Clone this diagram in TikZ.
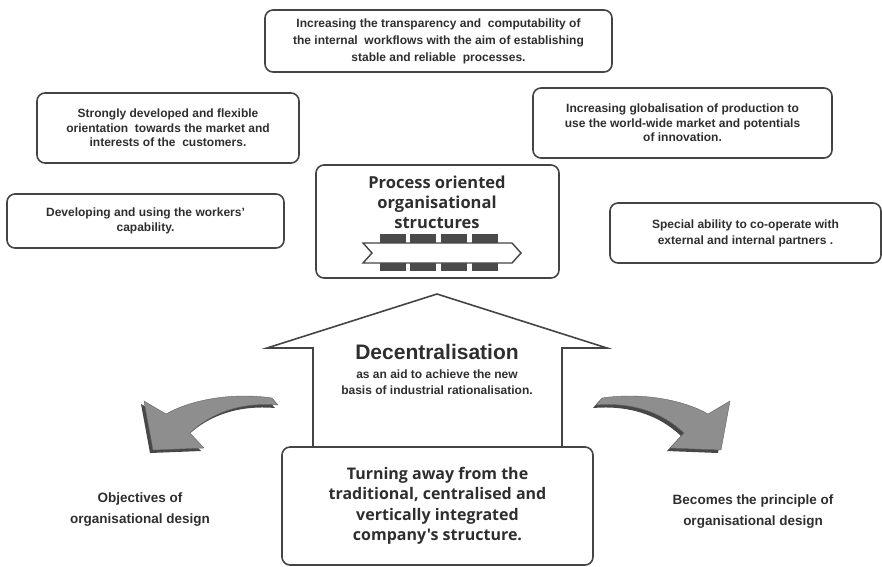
\documentclass[tikz,border=0pt]{standalone}
\usepackage{fontspec}
\setmainfont{Liberation Sans}
\newfontfamily\humfont{Open Sans}
\definecolor{ink}{HTML}{2E2E2E}
\definecolor{edge}{HTML}{444444}
\definecolor{arrowfill}{HTML}{8E8E8E}
\definecolor{arrowshade}{HTML}{474747}
\definecolor{barfill}{HTML}{4A4A4A}

\begin{document}
\begin{tikzpicture}[x=1pt,y=-1pt,
  box/.style={draw=edge, line width=1.6pt, rounded corners=8pt, inner sep=0pt,
    text=ink, align=center, font=\fontsize{12}{14.5}\selectfont\bfseries},
  label/.style={text=ink, align=center, inner sep=0pt},
  outline/.style={draw=edge, line width=1.6pt, line join=miter},
  bar/.style={fill=barfill, draw=none},
  swoosh/.style={fill=arrowfill, draw=arrowfill!70!black, line width=0.4pt},
  swooshshade/.style={fill=arrowshade, draw=none}]
\useasboundingbox (0,0) rectangle (882,566);

% objective boxes around the centre
\node[box, minimum width=347pt, minimum height=62pt,
      font=\fontsize{12}{17}\selectfont\bfseries] (workflows) at (438.5,41)
  {Increasing the transparency and \ computability of\\
   the internal \ workflows with the aim of establishing\\
   stable and reliable \ processes.};
\node[box, minimum width=262pt, minimum height=70pt] (market) at (168,128)
  {Strongly developed and flexible\\
   orientation \ towards the market and\\
   interests of the \ customers.};
\node[box, minimum width=277pt, minimum height=54pt] (workers) at (145.5,221)
  {Developing and using the workers'\\capability.};
\node[box, minimum width=299pt, minimum height=70pt] (global) at (682.5,123)
  {Increasing globalisation of production to\\
   use the world-wide market and potentials\\
   of innovation.};
\node[box, minimum width=271pt, minimum height=60pt,
      font=\fontsize{12}{16}\selectfont\bfseries] (partners) at (745.5,233)
  {Special ability to co-operate with\\external and internal partners .};

% central box with the process ribbon
\node[box, minimum width=243pt, minimum height=113pt] (process) at (437.5,221.5) {};
\node[label, font=\humfont\fontsize{16.5}{20}\selectfont\bfseries] (processtext) at (437,202)
  {Process oriented\\organisational\\structures};
\foreach \bx in {380,410,441,472}{
  \fill[bar] (\bx,234) rectangle ++(26,8.5);
  \fill[bar] (\bx,262.5) rectangle ++(26,8.5);
}
\draw[outline, fill=white, line width=1.4pt]
  (363,243) -- (512,243) -- (521,253) -- (512,263) -- (363,263) -- (372,253) -- cycle;

% bottom box
\node[box, minimum width=311pt, minimum height=118pt,
      font=\humfont\fontsize{16}{20.5}\selectfont\bfseries] (turning) at (437.5,506)
  {Turning away from the\\traditional, centralised and\\vertically integrated\\company's structure.};

% upward block arrow standing on the bottom box
\draw[outline] (313,0 |- turning.north) -- (313,348) -- (267,348) -- (437,294)
  -- (607,348) -- (562,348) -- (562,0 |- turning.north);
\node[label, font=\fontsize{21}{24}\selectfont\bfseries] (decentral) at (437,352)
  {Decentralisation};
\node[label, font=\fontsize{12}{16}\selectfont\bfseries] (aid) at (437,382)
  {as an aid to achieve the new\\basis of industrial rationalisation.};

% curved arrows to both sides
\fill[swooshshade, shift={(-3,3)}]
  (144,401) -- (166,414) .. controls (190,400) and (232,392) .. (272,398)
  -- (278,405) .. controls (242,402) and (212,412) .. (190,433)
  -- (204,448) -- (153,450) -- cycle;
\filldraw[swoosh]
  (144,401) -- (166,414) .. controls (190,400) and (232,392) .. (272,398)
  -- (278,405) .. controls (242,402) and (212,412) .. (190,433)
  -- (204,448) -- (153,450) -- cycle;

\fill[swooshshade, shift={(-3,3)}]
  (730,401) -- (708,414) .. controls (684,400) and (642,392) .. (602,398)
  -- (596,405) .. controls (632,402) and (662,412) .. (684,433)
  -- (670,448) -- (721,450) -- cycle;
\filldraw[swoosh]
  (730,401) -- (708,414) .. controls (684,400) and (642,392) .. (602,398)
  -- (596,405) .. controls (632,402) and (662,412) .. (684,433)
  -- (670,448) -- (721,450) -- cycle;

\node[label, font=\fontsize{13.5}{21}\selectfont\bfseries] (objectives) at (140,510)
  {Objectives of\\organisational design};
\node[label, font=\fontsize{13.5}{21}\selectfont\bfseries] (principle) at (753,512)
  {Becomes the principle of\\organisational design};
\end{tikzpicture}
\end{document}
